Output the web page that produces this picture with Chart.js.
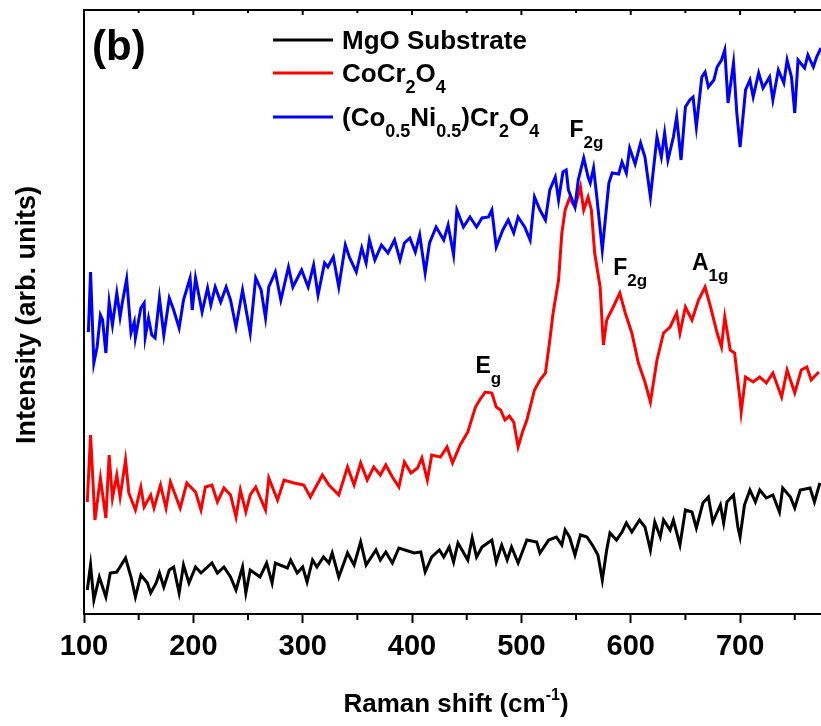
<!DOCTYPE html>
<html>
<head>
<meta charset="utf-8">
<script src="https://cdn.jsdelivr.net/npm/chart.js@4.4.0/dist/chart.umd.min.js"></script>
<style>
  html, body { margin: 0; padding: 0; background: #fff; }
  #wrap { width: 821px; height: 726px; }
</style>
</head>
<body>
<div id="wrap"><canvas id="ramanChart"></canvas></div>
<script>
// values: Raman shift (cm-1) vs intensity (arb. units)
const mgoShift = [103,106,109,114,120,124,130,138,143,147,152,158,161,166,169,173,178,182,187,191,196,202,207,217,222,228,234,239,245,248,252,261,267,272,275,286,289,295,300,304,309,313,319,324,327,333,341,347,353,358,367,371,376,382,388,402,408,412,418,425,429,434,438,442,451,455,459,464,473,477,482,487,491,497,505,514,517,525,532,537,540,544,549,554,560,566,570,574,578,581,587,592,596,601,608,613,618,622,627,630,636,639,645,650,656,660,666,671,675,682,685,688,694,698,700,704,709,714,718,724,730,736,739,746,750,755,764,768,773];
const mgoIntensity = [24,49,14,37,17,41,42,56,37,17,39,31,21,31,41,27,44,47,21,49,31,47,41,51,41,47,37,24,47,21,44,37,51,31,51,46,54,41,47,32,54,47,57,51,61,37,61,49,72,49,64,54,62,51,66,61,62,42,57,64,57,67,52,71,54,76,57,67,74,52,69,54,67,51,74,72,61,74,77,69,84,77,59,79,77,67,59,34,64,81,74,82,91,82,94,87,64,92,77,94,84,94,69,104,102,86,111,117,92,109,91,112,119,87,77,109,124,112,124,116,119,102,126,117,106,124,126,112,131];

const coShift = [103,106,110,115,120,123,126,130,133,138,141,147,152,155,161,164,170,175,179,188,194,202,207,211,217,222,228,234,239,243,248,252,257,266,269,277,283,292,301,307,318,324,333,341,347,353,359,365,371,376,382,388,393,399,405,409,414,418,426,432,437,444,451,458,463,467,473,477,481,485,489,493,497,501,505,512,517,522,526,529,534,537,540,544,549,554,557,561,564,567,572,575,578,584,590,595,601,607,613,618,624,630,636,642,645,650,656,662,668,673,679,683,686,691,695,700,701,705,712,718,724,730,738,743,750,756,761,765,772];
const coIntensity = [112,179,94,136,96,159,116,139,117,154,121,104,127,107,119,106,129,106,132,106,131,122,104,127,129,112,126,119,97,124,102,119,127,104,136,114,134,131,129,117,139,129,119,147,129,151,134,147,139,149,137,127,152,141,146,156,134,159,157,167,151,169,182,207,216,222,221,207,204,194,198,192,167,182,194,224,234,241,274,301,334,381,404,416,407,427,404,417,404,361,327,269,294,307,321,301,281,251,232,212,254,281,287,301,281,307,294,314,327,307,281,267,297,264,261,214,202,237,232,237,231,241,217,244,221,244,247,234,242];

const coNiShift = [104,106,109,112,115,117,120,123,126,130,133,135,139,143,146,147,152,155,156,159,162,165,169,173,178,182,187,191,197,199,202,208,213,216,220,225,230,234,239,245,252,257,262,266,269,275,280,287,291,299,305,310,314,320,323,328,333,339,343,349,354,358,361,366,372,378,384,389,393,398,403,407,412,416,422,429,433,438,441,447,453,459,464,470,473,477,483,488,493,497,503,508,512,517,522,526,531,534,538,541,543,549,552,557,561,563,566,569,574,580,583,589,592,596,599,604,609,613,618,621,624,628,631,634,639,642,646,650,654,657,660,665,668,671,676,679,683,686,689,694,697,700,705,709,712,717,721,727,730,735,740,743,747,750,753,759,762,767,770,774];
const coNiIntensity = [282,342,251,267,299,294,261,312,289,321,297,311,335,281,292,276,306,311,277,296,279,276,316,279,316,304,286,314,336,304,336,302,326,309,327,312,327,314,287,324,281,336,324,296,327,342,314,347,327,344,327,349,319,351,347,357,327,369,356,342,366,351,374,354,369,361,374,354,371,376,362,379,341,371,387,374,389,359,404,387,397,387,396,397,404,367,384,394,381,397,387,374,417,404,394,424,437,414,442,444,424,407,434,456,437,431,446,417,364,431,441,440,452,441,466,450,471,457,417,447,477,457,481,454,477,497,454,507,514,517,487,537,542,527,534,547,554,564,511,551,501,467,524,534,517,541,526,537,514,544,531,554,537,501,554,546,559,547,557,566];

// mode labels (text, subscript, position in data units)
const peakNames = ['E', 'F', 'F', 'A'];
const peakSubs = ['g', '2g', '2g', '1g'];
const peakShift = [458, 544, 584, 656];
const peakLevel = [241, 477, 339, 344];

const FONT = "'Liberation Sans', Arial, sans-serif";

function toPoints(xs, ys) {
    const n = Math.min(xs.length, ys.length);
    const pts = [];
    for (let i = 0; i < n; i++) pts.push({x: xs[i], y: ys[i]});
    return pts;
}

// draws text made of [string, isSubscript] parts, returns end x
function drawParts(ctx, x, y, parts, size, subSize, drop) {
    ctx.textBaseline = 'alphabetic';
    ctx.textAlign = 'left';
    parts.forEach(function (p) {
        ctx.font = 'bold ' + (p[1] ? subSize : size) + 'px ' + FONT;
        ctx.fillText(p[0], x, p[1] ? y + drop : y);
        x += ctx.measureText(p[0]).width;
    });
    return x;
}

const legendItems = [
    {color: '#000000', y: 40, parts: [['MgO Substrate', false]]},
    {color: '#ff0000', y: 73, parts: [['CoCr', false], ['2', true], ['O', false], ['4', true]]},
    {color: '#0000ff', y: 117, parts: [['(Co', false], ['0.5', true], ['Ni', false], ['0.5', true], [')Cr', false], ['2', true], ['O', false], ['4', true]]}
];

const decorPlugin = {
    id: 'decor',
    afterDraw(chart) {
        const ctx = chart.ctx;
        const area = chart.chartArea;
        const xs = chart.scales.x;
        const ys = chart.scales.y;
        ctx.save();
        ctx.fillStyle = '#000';
        ctx.strokeStyle = '#000';

        // top frame line with small inward ticks
        ctx.lineWidth = 2;
        ctx.beginPath();
        ctx.moveTo(area.left, area.top);
        ctx.lineTo(area.right, area.top);
        ctx.stroke();
        for (let v = 150; v <= 750; v += 50) {
            const px = xs.getPixelForValue(v);
            ctx.beginPath();
            ctx.moveTo(px, area.top);
            ctx.lineTo(px, area.top + (v % 100 === 0 ? 5 : 3));
            ctx.stroke();
        }
        // minor ticks on the bottom axis
        for (let v = 150; v <= 750; v += 100) {
            const px = xs.getPixelForValue(v);
            ctx.beginPath();
            ctx.moveTo(px, area.bottom);
            ctx.lineTo(px, area.bottom + 6);
            ctx.stroke();
        }

        // panel label
        ctx.font = 'bold 42px ' + FONT;
        ctx.textBaseline = 'alphabetic';
        ctx.fillText('(b)', 92, 60);

        // legend
        legendItems.forEach(function (it) {
            ctx.strokeStyle = it.color;
            ctx.lineWidth = 3;
            ctx.beginPath();
            ctx.moveTo(273, it.y);
            ctx.lineTo(333, it.y);
            ctx.stroke();
            drawParts(ctx, 342, it.y + 9, it.parts, 26, 18, 11);
        });

        // mode labels
        for (let i = 0; i < peakNames.length; i++) {
            drawParts(ctx, xs.getPixelForValue(peakShift[i]), ys.getPixelForValue(peakLevel[i]),
                [[peakNames[i], false], [peakSubs[i], true]], 23, 17, 11);
        }

        // x axis title with superscript
        ctx.font = 'bold 26px ' + FONT;
        const t1 = 'Raman shift (cm';
        const w1 = ctx.measureText(t1).width;
        ctx.font = 'bold 16px ' + FONT;
        const wSup = ctx.measureText('-1').width;
        ctx.font = 'bold 26px ' + FONT;
        const wEnd = ctx.measureText(')').width;
        let tx = 456 - (w1 + wSup + wEnd) / 2;
        ctx.fillText(t1, tx, 712);
        tx += w1;
        ctx.font = 'bold 16px ' + FONT;
        ctx.fillText('-1', tx, 700);
        tx += wSup;
        ctx.font = 'bold 26px ' + FONT;
        ctx.fillText(')', tx, 712);

        // y axis title
        ctx.translate(28, 315);
        ctx.rotate(-Math.PI / 2);
        ctx.textAlign = 'center';
        ctx.textBaseline = 'middle';
        ctx.font = 'bold 27px ' + FONT;
        ctx.fillText('Intensity (arb. units)', 0, 0);
        ctx.restore();
    }
};

const myChart = new Chart(document.getElementById('ramanChart'), {
    type: 'line',
    data: {
        datasets: [{
            label: 'MgO Substrate',
            data: toPoints(mgoShift, mgoIntensity),
            borderColor: '#000000',
            borderWidth: 3,
            pointRadius: 0,
            tension: 0,
            order: 2
        }, {
            label: 'CoCr2O4',
            data: toPoints(coShift, coIntensity),
            borderColor: '#ff0000',
            borderWidth: 3,
            pointRadius: 0,
            tension: 0,
            order: 1
        }, {
            label: '(Co0.5Ni0.5)Cr2O4',
            data: toPoints(coNiShift, coNiIntensity),
            borderColor: '#0000ff',
            borderWidth: 3,
            pointRadius: 0,
            tension: 0,
            order: 0
        }]
    },
    options: {
        responsive: true,
        maintainAspectRatio: false,
        animation: false,
        devicePixelRatio: 1,
        layout: { padding: { top: 10, right: 0, left: 0, bottom: 0 } },
        plugins: {
            legend: { display: false },
            tooltip: { enabled: false }
        },
        scales: {
            x: {
                type: 'linear',
                min: 100,
                max: 774,
                afterFit: function (scale) { scale.height = 112; },
                ticks: {
                    stepSize: 100,
                    includeBounds: false,
                    autoSkip: false,
                    maxRotation: 0,
                    color: '#000',
                    padding: 7,
                    font: { family: FONT, weight: 'bold', size: 29 }
                },
                grid: {
                    drawOnChartArea: false,
                    tickLength: 9,
                    tickWidth: 2,
                    tickColor: '#000'
                },
                border: { color: '#000', width: 2 }
            },
            y: {
                min: 0,
                max: 604,
                afterFit: function (scale) { scale.width = 84; },
                ticks: { display: false },
                grid: { drawOnChartArea: false, drawTicks: false },
                border: { color: '#000', width: 2 }
            }
        }
    },
    plugins: [decorPlugin]
});
</script>
</body>
</html>
